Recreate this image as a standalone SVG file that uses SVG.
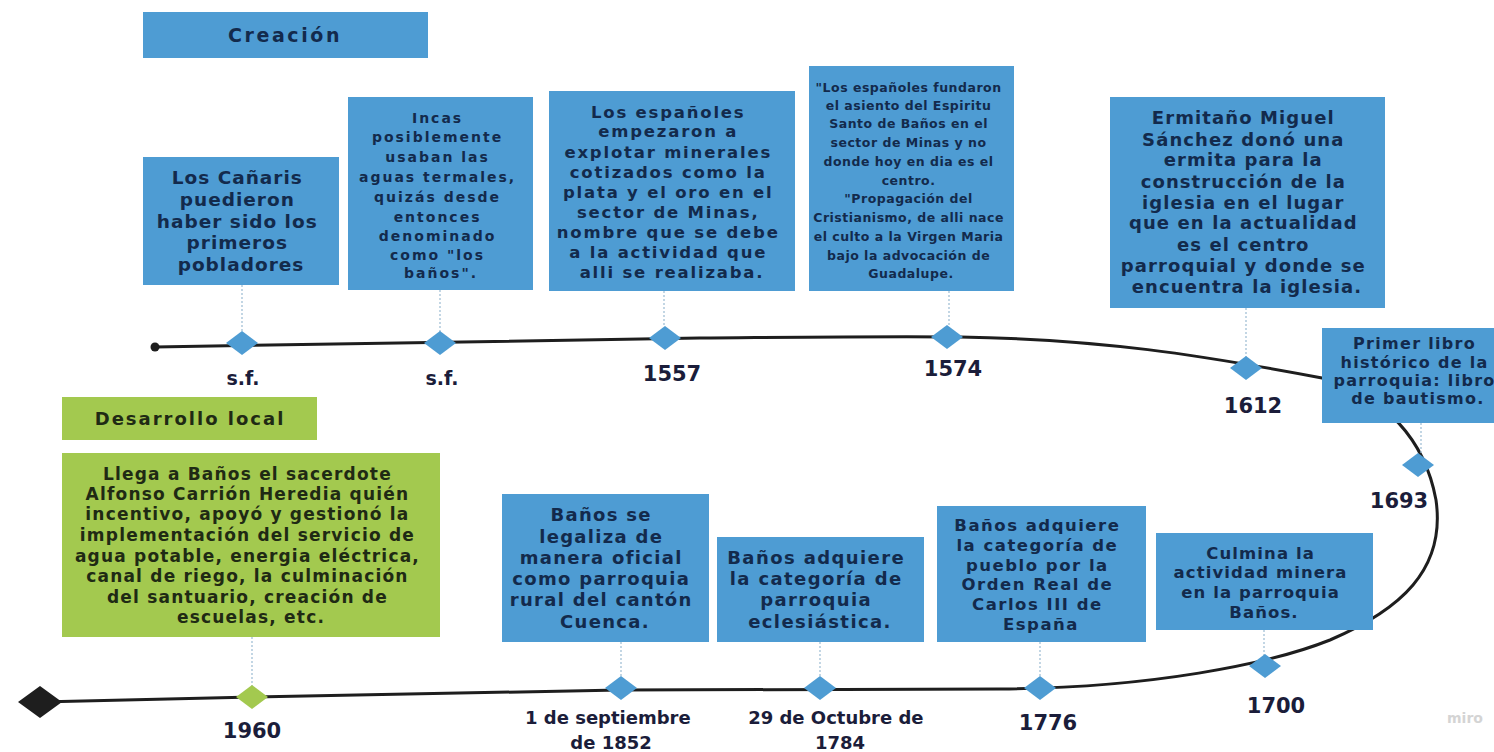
<svg xmlns="http://www.w3.org/2000/svg" width="1494" height="752" viewBox="0 0 1494 752">
<style>
.bg{fill:#ffffff}
.box{fill:#4e9cd3}
.gbox{fill:#a3c94f}
.t{font-family:"DejaVu Sans","Verdana",sans-serif;font-weight:bold;fill:#132a4c;text-anchor:middle}
.tg{font-family:"DejaVu Sans","Verdana",sans-serif;font-weight:bold;fill:#1f2a14;text-anchor:middle}
.lbl{font-family:"DejaVu Sans","Verdana",sans-serif;font-weight:bold;fill:#1b1d3a;text-anchor:middle}
.dia{fill:#4e9cd3}
.gdia{fill:#a3c94f}
.tl{fill:none;stroke:#1e1e1e;stroke-width:3;stroke-linecap:round;stroke-linejoin:round}
.dot{stroke:#9bbbd3;stroke-width:1.2;stroke-dasharray:2 2;fill:none}
</style>
<rect class="bg" x="0" y="0" width="1494" height="752"/>

<g id="connectors">
<path class="tl" d="M155,347 C300,345 500,340 700,338 C820,337 900,336 960,337 C1100,339 1200,355 1322,378 C1385,395 1425,440 1436,500 C1446,570 1400,610 1330,640 C1270,664 1150,688 1000,689 L620,690 L253,697 L40,702"/>
<circle cx="155" cy="347" r="4.5" fill="#1e1e1e"/>
<line class="dot" x1="242" y1="285" x2="242" y2="332"/>
<line class="dot" x1="440" y1="290" x2="440" y2="332"/>
<line class="dot" x1="664" y1="291" x2="664" y2="327"/>
<line class="dot" x1="949" y1="291" x2="949" y2="326"/>
<line class="dot" x1="1246" y1="308" x2="1246" y2="357"/>
<line class="dot" x1="1421" y1="423" x2="1421" y2="454"/>
<line class="dot" x1="252" y1="637" x2="252" y2="686"/>
<line class="dot" x1="621" y1="642" x2="621" y2="677"/>
<line class="dot" x1="820" y1="642" x2="820" y2="677"/>
<line class="dot" x1="1040" y1="642" x2="1040" y2="677"/>
<line class="dot" x1="1264" y1="630" x2="1264" y2="656"/>
</g>

<g id="title-creacion">
<rect class="box" x="143" y="12" width="285" height="46"/>
<text class="t" x="285" y="42" font-size="19" letter-spacing="2.6">Creación</text>
</g>

<g id="title-desarrollo">
<rect class="gbox" x="62" y="397" width="255" height="43"/>
<text class="tg" x="190" y="425" font-size="18" letter-spacing="2">Desarrollo local</text>
</g>

<g id="node-canaris">
<rect class="box" x="143" y="157" width="196" height="128"/>
<text class="t" font-size="18.5" letter-spacing="1">
<tspan x="241" y="184">Los Cañaris</tspan>
<tspan x="241" y="206">puedieron</tspan>
<tspan x="241" y="228">haber sido los</tspan>
<tspan x="241" y="249">primeros</tspan>
<tspan x="241" y="271">pobladores</tspan>
</text>
<path class="dia" d="M242,331 L258,343 L242,355 L226,343 Z"/>
<text class="lbl" x="243" y="385" font-size="19">s.f.</text>
</g>

<g id="node-incas">
<rect class="box" x="348" y="97" width="185" height="193"/>
<text class="t" font-size="14" letter-spacing="2">
<tspan x="441" y="123">Incas</tspan>
<tspan x="441" y="142">posiblemente</tspan>
<tspan x="441" y="162">usaban las</tspan>
<tspan x="441" y="182">aguas termales,</tspan>
<tspan x="441" y="202">quizás desde</tspan>
<tspan x="441" y="222">entonces</tspan>
<tspan x="441" y="241">denominado</tspan>
<tspan x="441" y="260">como "los</tspan>
<tspan x="441" y="278">baños".</tspan>
</text>
<path class="dia" d="M440,331 L456,343 L440,355 L424,343 Z"/>
<text class="lbl" x="442" y="385" font-size="19">s.f.</text>
</g>

<g id="node-1557">
<rect class="box" x="549" y="91" width="246" height="200"/>
<text class="t" font-size="16.5" letter-spacing="1.8">
<tspan x="672" y="118">Los españoles</tspan>
<tspan x="672" y="137">empezaron a</tspan>
<tspan x="672" y="158">explotar minerales</tspan>
<tspan x="672" y="178">cotizados como la</tspan>
<tspan x="672" y="198">plata y el oro en el</tspan>
<tspan x="672" y="218">sector de Minas,</tspan>
<tspan x="672" y="238">nombre que se debe</tspan>
<tspan x="672" y="258">a la actividad que</tspan>
<tspan x="672" y="278">alli se realizaba.</tspan>
</text>
<path class="dia" d="M665,326 L681,338 L665,350 L649,338 Z"/>
<text class="lbl" x="672" y="381" font-size="21">1557</text>
</g>

<g id="node-1574">
<rect class="box" x="809" y="66" width="205" height="225"/>
<text class="t" font-size="12.5" letter-spacing="0.5">
<tspan x="911" y="92">"Los españoles fundaron</tspan>
<tspan x="911" y="110">el asiento del Espiritu</tspan>
<tspan x="911" y="128">Santo de Baños en el</tspan>
<tspan x="911" y="147">sector de Minas y no</tspan>
<tspan x="911" y="166">donde hoy en dia es el</tspan>
<tspan x="911" y="185">centro.</tspan>
<tspan x="911" y="203">"Propagación del</tspan>
<tspan x="911" y="222">Cristianismo, de alli nace</tspan>
<tspan x="911" y="241">el culto a la Virgen Maria</tspan>
<tspan x="911" y="260">bajo la advocación de</tspan>
<tspan x="911" y="278">Guadalupe.</tspan>
</text>
<path class="dia" d="M947,325 L963,337 L947,349 L931,337 Z"/>
<text class="lbl" x="953" y="376" font-size="21">1574</text>
</g>

<g id="node-1612">
<rect class="box" x="1110" y="97" width="275" height="211"/>
<text class="t" font-size="18" letter-spacing="1.1">
<tspan x="1247" y="124">Ermitaño Miguel</tspan>
<tspan x="1247" y="146">Sánchez donó una</tspan>
<tspan x="1247" y="166">ermita para la</tspan>
<tspan x="1247" y="188">construcción de la</tspan>
<tspan x="1247" y="209">iglesia en el lugar</tspan>
<tspan x="1247" y="229">que en la actualidad</tspan>
<tspan x="1247" y="251">es el centro</tspan>
<tspan x="1247" y="272">parroquial y donde se</tspan>
<tspan x="1247" y="293">encuentra la iglesia.</tspan>
</text>
<path class="dia" d="M1246,356 L1262,368 L1246,380 L1230,368 Z"/>
<text class="lbl" x="1253" y="413" font-size="21">1612</text>
</g>

<g id="node-1693">
<rect class="box" x="1322" y="328" width="190" height="95"/>
<text class="t" font-size="16" letter-spacing="1.3">
<tspan x="1418" y="349">Primer libro</tspan>
<tspan x="1418" y="368">histórico de la</tspan>
<tspan x="1418" y="386">parroquia: libro</tspan>
<tspan x="1418" y="404">de bautismo.</tspan>
</text>
<path class="dia" d="M1418,453 L1434,465 L1418,477 L1402,465 Z"/>
<text class="lbl" x="1399" y="508" font-size="21">1693</text>
</g>

<g id="node-1960">
<rect class="gbox" x="62" y="453" width="378" height="184"/>
<text class="tg" font-size="17" letter-spacing="1.2">
<tspan x="251" y="480">Llega a Baños el sacerdote</tspan>
<tspan x="251" y="500">Alfonso Carrión Heredia quién</tspan>
<tspan x="251" y="520">incentivo, apoyó y gestionó la</tspan>
<tspan x="251" y="541">implementación del servicio de</tspan>
<tspan x="251" y="562">agua potable, energia eléctrica,</tspan>
<tspan x="251" y="582">canal de riego, la culminación</tspan>
<tspan x="251" y="603">del santuario, creación de</tspan>
<tspan x="251" y="623">escuelas, etc.</tspan>
</text>
<path class="gdia" d="M252,685 L268,697 L252,709 L236,697 Z"/>
<text class="lbl" x="252" y="738" font-size="21">1960</text>
</g>

<g id="node-1852">
<rect class="box" x="502" y="494" width="207" height="148"/>
<text class="t" font-size="18" letter-spacing="1.3">
<tspan x="605" y="521">Baños se</tspan>
<tspan x="605" y="543">legaliza de</tspan>
<tspan x="605" y="564">manera oficial</tspan>
<tspan x="605" y="585">como parroquia</tspan>
<tspan x="605" y="606">rural del cantón</tspan>
<tspan x="605" y="628">Cuenca.</tspan>
</text>
<path class="dia" d="M621,676 L637,688 L621,700 L605,688 Z"/>
<text class="lbl" font-size="18">
<tspan x="611" y="724">1 de septiembre</tspan>
<tspan x="611" y="749">de 1852</tspan>
</text>
</g>

<g id="node-1784">
<rect class="box" x="717" y="537" width="207" height="105"/>
<text class="t" font-size="18" letter-spacing="1.4">
<tspan x="820" y="564">Baños adquiere</tspan>
<tspan x="820" y="585">la categoría de</tspan>
<tspan x="820" y="606">parroquia</tspan>
<tspan x="820" y="628">eclesiástica.</tspan>
</text>
<path class="dia" d="M820,676 L836,688 L820,700 L804,688 Z"/>
<text class="lbl" font-size="18">
<tspan x="839" y="724">29 de Octubre de</tspan>
<tspan x="840" y="749">1784</tspan>
</text>
</g>

<g id="node-1776">
<rect class="box" x="937" y="506" width="209" height="136"/>
<text class="t" font-size="16.5" letter-spacing="1.5">
<tspan x="1041" y="531">Baños adquiere</tspan>
<tspan x="1041" y="551">la categoría de</tspan>
<tspan x="1041" y="571">pueblo por la</tspan>
<tspan x="1041" y="590">Orden Real de</tspan>
<tspan x="1041" y="610">Carlos III de</tspan>
<tspan x="1041" y="630">España</tspan>
</text>
<path class="dia" d="M1040,676 L1056,688 L1040,700 L1024,688 Z"/>
<text class="lbl" x="1048" y="730" font-size="21">1776</text>
</g>

<g id="node-1700">
<rect class="box" x="1156" y="533" width="217" height="97"/>
<text class="t" font-size="16.5" letter-spacing="1.1">
<tspan x="1264" y="559">Culmina la</tspan>
<tspan x="1264" y="578">actividad minera</tspan>
<tspan x="1264" y="598">en la parroquia</tspan>
<tspan x="1264" y="618">Baños.</tspan>
</text>
<path class="dia" d="M1265,654 L1281,666 L1265,678 L1249,666 Z"/>
<text class="lbl" x="1276" y="713" font-size="21">1700</text>
</g>

<g id="start-marker">
<path d="M40,686 L62,702 L40,718 L18,702 Z" fill="#1e1e1e"/>
</g>

<text x="1465" y="723" font-family="DejaVu Sans, sans-serif" font-weight="bold" font-size="14" fill="#d4d4d4" text-anchor="middle">miro</text>
</svg>
